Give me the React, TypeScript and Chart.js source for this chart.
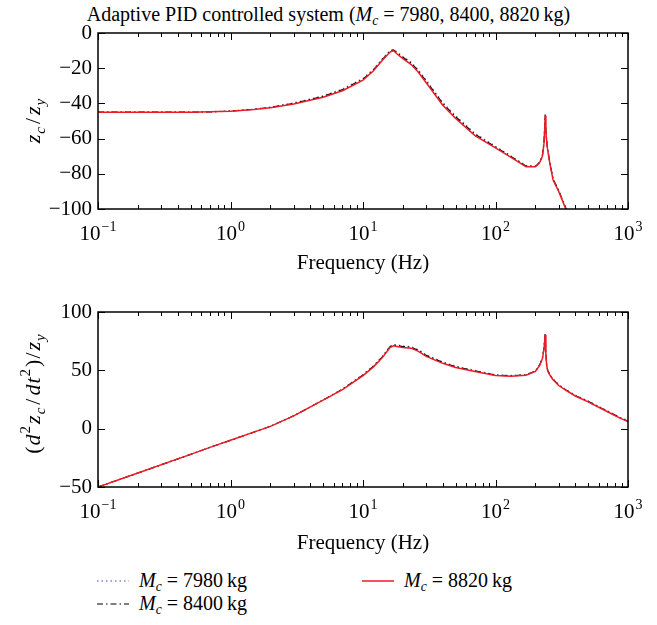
import React, { useEffect, useRef } from 'react';
import { Chart, registerables } from 'chart.js';
Chart.register(...registerables);

const FONT = '"Liberation Serif", "DejaVu Serif", serif';

const freqHz = [0.1, 0.2, 0.5, 0.7, 1, 1.5, 2, 3, 5, 7, 10, 12, 14, 16, 17, 18, 20, 23, 26, 30, 40, 50, 70, 100, 130, 170, 200, 215, 226, 232, 235, 237, 240, 243, 246, 250, 260, 272, 300, 338, 400, 500, 700, 870, 1000];

const topM7980 = [-45, -45, -45, -44.7, -44.3, -43.2, -42.1, -39.7, -35.7, -31.8, -25.8, -20.6, -14.6, -10, -9.3, -10.8, -13.3, -16.5, -20.7, -26.8, -39.4, -47, -57, -64.4, -69.7, -75.3, -75.6, -73.3, -69.3, -62.2, -54.2, -46.3, -55.2, -60.3, -64.3, -68, -75.3, -82.7, -89.3, -98.9, -107.3, -117.2, -129.2, -137.2, -141.2];
const topM8400 = [-45, -45, -45, -44.8, -44.4, -43.4, -42.3, -40, -36, -32.2, -26.2, -21, -15, -10.3, -9.6, -11.2, -13.8, -17, -21.2, -27.4, -40, -47.6, -57.5, -64.8, -70, -75.6, -75.8, -73.5, -69.6, -62.5, -54.5, -46.5, -55.5, -60.6, -64.6, -68.2, -75.6, -83, -89.6, -99.2, -107.6, -117.5, -129.5, -137.5, -141.5];
const topM8820 = [-45, -45, -45, -44.8, -44.5, -43.5, -42.5, -40.3, -36.5, -32.8, -26.8, -21.5, -15.5, -10.8, -10, -11.8, -14.6, -17.8, -22, -28.3, -41, -48.5, -58.3, -65.3, -70.5, -76, -76, -73.8, -70, -63, -55, -47, -56, -61, -65, -68.5, -76, -83.5, -90, -99.6, -108, -118, -130, -138, -142];

const botM7980 = [-50, -38, -22, -16, -10, -3, 2, 11, 24.6, 34, 46.4, 54, 62, 70.6, 72.2, 71.8, 70.9, 70.3, 67.9, 63.3, 57.3, 53.6, 49.9, 46.2, 45.6, 46.4, 49.6, 54.8, 60.8, 68.9, 76, 81.5, 64.8, 55.8, 51.8, 49.3, 45.8, 42.8, 37.8, 33.8, 28.8, 23.8, 15.3, 9.8, 6.8];
const botM8400 = [-50, -38, -22, -16, -10, -3, 2, 11, 24.5, 33.8, 46, 53.6, 61.6, 70.2, 71.8, 71.3, 70.4, 69.8, 67.4, 62.8, 56.8, 53.1, 49.5, 45.9, 45.3, 46.1, 49.3, 54.4, 60.4, 68.5, 75.5, 81, 64.4, 55.4, 51.4, 48.9, 45.4, 42.4, 37.4, 33.4, 28.4, 23.4, 14.9, 9.4, 6.4];
const botM8820 = [-50, -38, -22, -16, -10, -3, 2, 11, 24.5, 33.5, 45.5, 53, 61, 69.5, 71, 70.5, 69.5, 69, 66.5, 62, 56, 52.5, 49, 45.5, 45, 45.8, 49, 54, 60, 68, 75, 80.5, 64, 55, 51, 48.5, 45, 42, 37, 33, 28, 23, 14.5, 9, 6];

const xTickValues = [0.1, 1, 10, 100, 1000];
const xTickExponents = ['\u22121', '0', '1', '2', '3'];
const seriesLabels = ['M_c = 7980 kg', 'M_c = 8400 kg', 'M_c = 8820 kg'];

const RED = 'rgb(237,28,36)';
const BLUE = 'rgb(120,135,200)';
const AXIS_SIZE = 21;

type Seg = { t: string; it?: boolean; sub?: boolean; sup?: boolean; gap?: number };

function drawRich(ctx: CanvasRenderingContext2D, segs: Seg[], cx: number, cy: number, size: number) {
  ctx.save();
  ctx.translate(cx, cy);
  ctx.rotate(-Math.PI / 2);
  const fontFor = (s: Seg) => `${s.it ? 'italic ' : ''}${s.sub || s.sup ? Math.round(size * 0.68) : size}px ${FONT}`;
  const widths = segs.map((s) => {
    ctx.font = fontFor(s);
    return ctx.measureText(s.t).width + (s.gap || 0);
  });
  const total = widths.reduce((a, b) => a + b, 0);
  let x = -total / 2;
  ctx.fillStyle = '#000';
  ctx.textBaseline = 'alphabetic';
  segs.forEach((s, i) => {
    ctx.font = fontFor(s);
    const dy = s.sub ? size * 0.25 : s.sup ? -size * 0.42 : 0;
    ctx.fillText(s.t, x, size * 0.35 + dy);
    x += widths[i];
  });
  ctx.restore();
}

const boxTicks = {
  id: 'boxTicks',
  afterDatasetsDraw(chart: any) {
    const { ctx, chartArea: a, scales } = chart;
    const xs = scales.x;
    const ys = scales.y;
    ctx.save();
    ctx.strokeStyle = '#000';
    ctx.lineWidth = 1;
    ctx.beginPath();
    for (let d = -1; d <= 3; d++) {
      for (let m = 1; m <= 9; m++) {
        const v = m * Math.pow(10, d);
        if (v > 1000.0001) break;
        const px = Math.round(xs.getPixelForValue(v)) + 0.5;
        const len = m === 1 ? 7 : 4;
        ctx.moveTo(px, a.bottom);
        ctx.lineTo(px, a.bottom - len);
        ctx.moveTo(px, a.top);
        ctx.lineTo(px, a.top + len);
      }
    }
    ys.ticks.forEach((t: any) => {
      const py = Math.round(ys.getPixelForValue(t.value)) + 0.5;
      ctx.moveTo(a.left, py);
      ctx.lineTo(a.left + 7, py);
      ctx.moveTo(a.right, py);
      ctx.lineTo(a.right - 7, py);
    });
    ctx.stroke();
    ctx.lineWidth = 1.5;
    ctx.strokeRect(a.left, a.top, a.right - a.left, a.bottom - a.top);
    ctx.restore();
  },
};

const xPowerLabels = {
  id: 'xPowerLabels',
  afterDraw(chart: any) {
    const { ctx, chartArea: a, scales } = chart;
    const xs = scales.x;
    ctx.save();
    ctx.fillStyle = '#000';
    ctx.textBaseline = 'alphabetic';
    const baseFont = `${AXIS_SIZE}px ${FONT}`;
    const supFont = `${Math.round(AXIS_SIZE * 0.66)}px ${FONT}`;
    xTickValues.forEach((v, i) => {
      ctx.font = baseFont;
      const wBase = ctx.measureText('10').width;
      ctx.font = supFont;
      const wSup = ctx.measureText(xTickExponents[i]).width;
      const total = wBase + 1 + wSup;
      const px = xs.getPixelForValue(v);
      const left = px - total / 2;
      const baseY = a.bottom + 31;
      ctx.font = baseFont;
      ctx.fillText('10', left, baseY);
      ctx.font = supFont;
      ctx.fillText(xTickExponents[i], left + wBase + 1, baseY - AXIS_SIZE * 0.45);
    });
    ctx.restore();
  },
};

function makeYTitle(segs: Seg[], cx: number, cy: number) {
  return {
    id: 'yTitleRich',
    afterDraw(chart: any) {
      drawRich(chart.ctx, segs, cx, cy, 22);
    },
  };
}

function buildConfig(values: number[][], yMin: number, yMax: number, yStep: number, padTop: number, xHeight: number, titleSegs: Seg[], titleCy: number): any {
  const styles = [
    { color: BLUE, dash: [1.5, 3], width: 1.3, order: 3 },
    { color: '#000', dash: [6, 3, 1.5, 3], width: 1.2, order: 2 },
    { color: RED, dash: [], width: 1.5, order: 1 },
  ];
  return {
    type: 'line',
    data: {
      labels: freqHz,
      datasets: values.map((vals, i) => ({
        label: seriesLabels[i],
        data: freqHz.map((f, j) => ({ x: f, y: vals[j] })),
        borderColor: styles[i].color,
        borderDash: styles[i].dash,
        borderWidth: styles[i].width,
        order: styles[i].order,
        pointRadius: 0,
        tension: 0,
        fill: false,
      })),
    },
    options: {
      animation: false,
      responsive: false,
      layout: { padding: { left: 38, right: 29, top: padTop, bottom: 0 } },
      plugins: { legend: { display: false }, tooltip: { enabled: false }, title: { display: false } },
      scales: {
        x: {
          type: 'logarithmic',
          min: 0.1,
          max: 1000,
          afterBuildTicks: (s: any) => {
            s.ticks = xTickValues.map((v) => ({ value: v, major: true }));
          },
          afterFit: (s: any) => {
            s.height = xHeight;
          },
          grid: { display: false, drawTicks: false },
          border: { display: false },
          ticks: { display: false, autoSkip: false, maxRotation: 0 },
          title: {
            display: true,
            text: 'Frequency (Hz)',
            color: '#000',
            font: { family: FONT, size: AXIS_SIZE },
            padding: { top: 0, bottom: 4 },
          },
        },
        y: {
          type: 'linear',
          min: yMin,
          max: yMax,
          afterFit: (s: any) => {
            s.width = 60;
          },
          grid: { display: false, drawTicks: false },
          border: { display: false },
          ticks: {
            stepSize: yStep,
            padding: 6,
            color: '#000',
            font: { family: FONT, size: AXIS_SIZE },
            callback: (v: any) => (v < 0 ? '\u2212' + Math.abs(v) : String(v)),
          },
        },
      },
    },
    plugins: [boxTicks, xPowerLabels, makeYTitle(titleSegs, 32, titleCy)],
  };
}

const topTitle: Seg[] = [
  { t: 'z', it: true, gap: 1 },
  { t: 'c', it: true, sub: true, gap: 3 },
  { t: '/', gap: 3 },
  { t: 'z', it: true, gap: 1 },
  { t: 'y', it: true, sub: true },
];
const botTitle: Seg[] = [
  { t: '(', gap: 1 },
  { t: 'd', it: true, gap: 1 },
  { t: '2', sup: true, gap: 2 },
  { t: 'z', it: true, gap: 1 },
  { t: 'c', it: true, sub: true, gap: 3 },
  { t: '/', gap: 3 },
  { t: 'd', it: true, gap: 1 },
  { t: 't', it: true, gap: 1 },
  { t: '2', sup: true, gap: 2 },
  { t: ')', gap: 1 },
  { t: '/', gap: 2 },
  { t: 'z', it: true, gap: 1 },
  { t: 'y', it: true, sub: true },
];

function ChartCanvas({ config, top, height }: { config: () => any; top: number; height: number }) {
  const ref = useRef<HTMLCanvasElement | null>(null);
  useEffect(() => {
    if (!ref.current) return;
    const chart = new Chart(ref.current, config());
    return () => chart.destroy();
  }, []);
  return (
    <canvas
      ref={ref}
      width={657}
      height={height}
      style={{ position: 'absolute', left: 0, top, width: 657, height }}
    />
  );
}

const subStyle: React.CSSProperties = { fontSize: '0.68em', verticalAlign: '-0.3em', lineHeight: 0 };

function Mc() {
  return (
    <>
      <i>M</i>
      <sub style={subStyle}>
        <i>c</i>
      </sub>
    </>
  );
}

function LegendItem({ left, top, dash, color, width, mass }: { left: number; top: number; dash: string; color: string; width: number; mass: string }) {
  return (
    <>
      <svg style={{ position: 'absolute', left, top: top - 5 }} width={34} height={10}>
        <line x1={1} y1={5} x2={33} y2={5} stroke={color} strokeWidth={width} strokeDasharray={dash} />
      </svg>
      <div style={{ position: 'absolute', left: left + 43, top: top - 13, fontFamily: FONT, fontSize: 20, lineHeight: '24px', whiteSpace: 'nowrap', color: '#000' }}>
        <Mc /> = {mass}
        {'\u2009'}kg
      </div>
    </>
  );
}

export default function App() {
  return (
    <div style={{ position: 'absolute', left: 0, top: 0, width: 657, height: 625, background: '#fff', overflow: 'hidden' }}>
      <div style={{ position: 'absolute', left: 0, top: 2, width: 657, textAlign: 'center', fontFamily: FONT, fontSize: 20, lineHeight: '24px', color: '#000', whiteSpace: 'nowrap' }}>
        Adaptive PID controlled system (<Mc /> = 7980, 8400, 8820{'\u2009'}kg)
      </div>
      <ChartCanvas config={() => buildConfig([topM7980, topM8400, topM8820], -100, 0, 20, 33, 71, topTitle, 121)} top={0} height={280} />
      <ChartCanvas config={() => buildConfig([botM7980, botM8400, botM8820], -50, 100, 50, 22, 73, botTitle, 104)} top={290} height={270} />
      <LegendItem left={96} top={581} dash="1.5 3" color={BLUE} width={1.3} mass="7980" />
      <LegendItem left={96} top={604} dash="6 3 1.5 3" color="#000" width={1.2} mass="8400" />
      <LegendItem left={361} top={581} dash="" color={RED} width={1.5} mass="8820" />
    </div>
  );
}
